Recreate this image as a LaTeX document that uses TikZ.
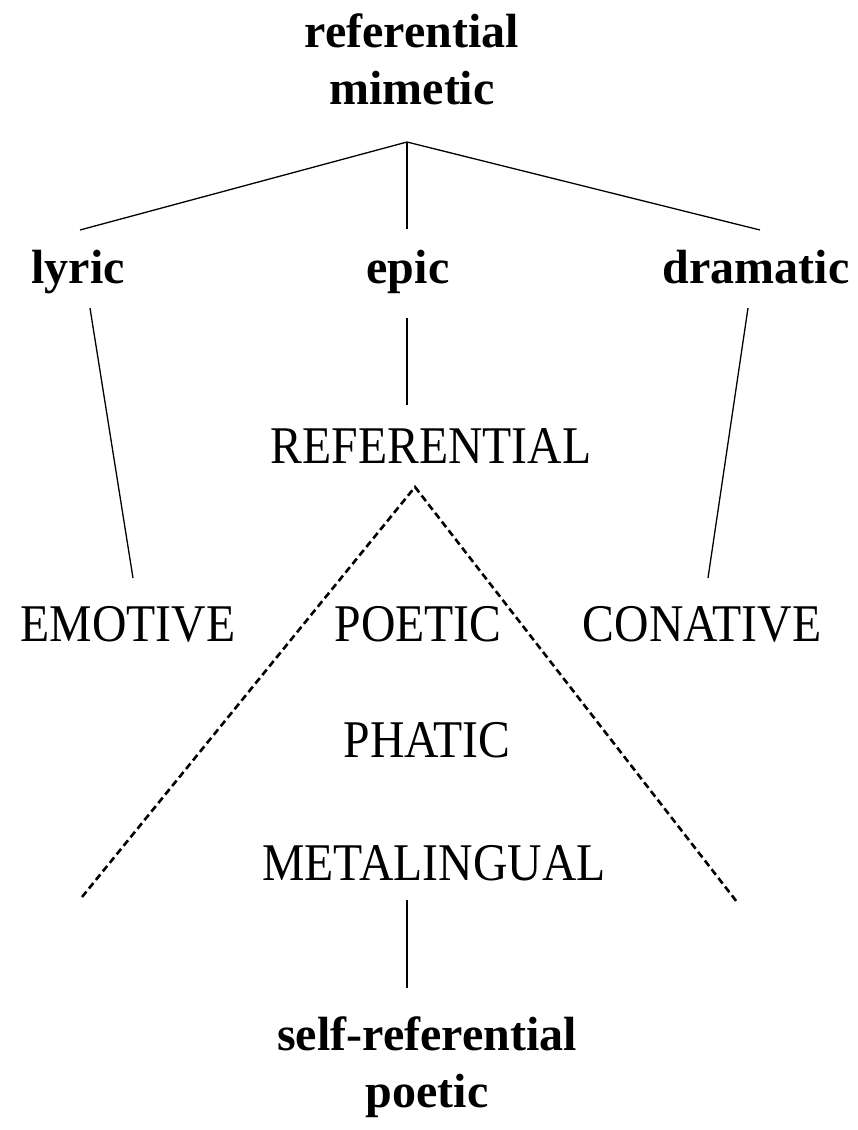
\documentclass[tikz,border=0pt]{standalone}
\usepackage{fontspec}
\setmainfont{Liberation Serif}
\newfontfamily\capsfont[FakeStretch=0.9]{Liberation Serif}
\begin{document}
\begin{tikzpicture}[x=1pt,y=-1pt,
  genre/.style={font=\fontsize{48}{57}\selectfont\bfseries, inner sep=0pt, anchor=base, align=center},
  func/.style={font=\fontsize{53}{60}\selectfont\capsfont, inner sep=0pt, anchor=base},
  link/.style={line width=1.3pt},
  dashlink/.style={line width=2.6pt, dash pattern=on 7pt off 4pt}]
\useasboundingbox[fill=white] (0,0) rectangle (857,1130);

% upper genres (base anchor = baseline of the last line)
\node[genre] (mim) at (412,104) {referential\\mimetic};
\node[genre] (lyr) at (78,283) {lyric};
\node[genre] (epi) at (408,283) {epic};
\node[genre] (dra) at (756,283) {dramatic};

% language functions
\node[func] (ref) at (431,463) {REFERENTIAL};
\node[func] (emo) at (128,641) {EMOTIVE};
\node[func] (poe) at (418,641) {POETIC};
\node[func] (con) at (702,641) {CONATIVE};
\node[func] (pha) at (427,757) {PHATIC};
\node[func] (met) at (434,880) {METALINGUAL};

% lower genre
\node[genre] (self) at (427,1107) {self-referential\\poetic};

% branch points and line ends
\coordinate (top) at (407,142);
\coordinate (lyrT) at (80,230);
\coordinate (epiT) at (407,229);
\coordinate (draT) at (760,230);
\coordinate (lyrB) at (90,308);
\coordinate (emoT) at (133,578);
\coordinate (epiB) at (407,318);
\coordinate (refT) at (407,405);
\coordinate (draB) at (748,308);
\coordinate (conT) at (708,578);
\coordinate (apex) at (415,487);
\coordinate (triL) at (82,897);
\coordinate (triR) at (737,902);
\coordinate (metB) at (407,900);
\coordinate (selfT) at (407,988);

\draw[link] (lyrT) -- (top) -- (draT);
\draw[link] (top) -- (epiT);
\draw[link] (lyrB) -- (emoT);
\draw[link] (epiB) -- (refT);
\draw[link] (draB) -- (conT);
\draw[link] (metB) -- (selfT);
\draw[dashlink] (triL) -- (apex) -- (triR);
\end{tikzpicture}
\end{document}
